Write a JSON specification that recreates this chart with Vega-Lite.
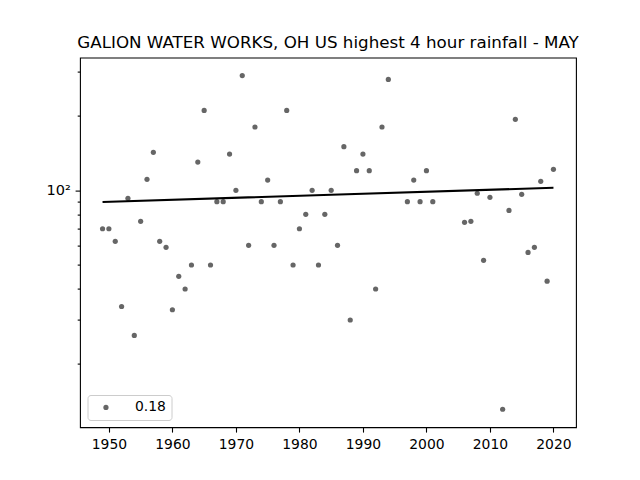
{
"$schema":"https://vega.github.io/schema/vega-lite/v6.json",
"width":496,"height":369.6,
"autosize":{"type":"none"},
"padding":{"left":80,"top":57.6,"right":64,"bottom":52.8},
"background":"white",
"title":{"text":"GALION WATER WORKS, OH US highest 4 hour rainfall - MAY","font":"DejaVu Sans","fontSize":16.72,"fontWeight":"normal","color":"black","anchor":"middle","offset":5.5},
"config":{"view":{"stroke":"black","strokeWidth":1.1},"font":"DejaVu Sans"},
"datasets":{
"obs":[
{"year":1949,"rain":70,"series":"0.18"},{"year":1950,"rain":70,"series":"0.18"},{"year":1951,"rain":62.3,"series":"0.18"},{"year":1952,"rain":34,"series":"0.18"},{"year":1953,"rain":92.8,"series":"0.18"},{"year":1954,"rain":26,"series":"0.18"},{"year":1955,"rain":75,"series":"0.18"},{"year":1956,"rain":110.7,"series":"0.18"},{"year":1957,"rain":142.3,"series":"0.18"},{"year":1958,"rain":62.3,"series":"0.18"},{"year":1959,"rain":58.9,"series":"0.18"},{"year":1960,"rain":33,"series":"0.18"},{"year":1961,"rain":45,"series":"0.18"},{"year":1962,"rain":40,"series":"0.18"},{"year":1963,"rain":50,"series":"0.18"},{"year":1964,"rain":130,"series":"0.18"},{"year":1965,"rain":210,"series":"0.18"},{"year":1966,"rain":50,"series":"0.18"},{"year":1967,"rain":90,"series":"0.18"},{"year":1968,"rain":90,"series":"0.18"},{"year":1969,"rain":140,"series":"0.18"},{"year":1970,"rain":100,"series":"0.18"},{"year":1971,"rain":290,"series":"0.18"},{"year":1972,"rain":60,"series":"0.18"},{"year":1973,"rain":180,"series":"0.18"},{"year":1974,"rain":90,"series":"0.18"},{"year":1975,"rain":110,"series":"0.18"},{"year":1976,"rain":60,"series":"0.18"},{"year":1977,"rain":90,"series":"0.18"},{"year":1978,"rain":210,"series":"0.18"},{"year":1979,"rain":50,"series":"0.18"},{"year":1980,"rain":70,"series":"0.18"},{"year":1981,"rain":80,"series":"0.18"},{"year":1982,"rain":100,"series":"0.18"},{"year":1983,"rain":50,"series":"0.18"},{"year":1984,"rain":80,"series":"0.18"},{"year":1985,"rain":100,"series":"0.18"},{"year":1986,"rain":60,"series":"0.18"},{"year":1987,"rain":150,"series":"0.18"},{"year":1988,"rain":30,"series":"0.18"},{"year":1989,"rain":120,"series":"0.18"},{"year":1990,"rain":140,"series":"0.18"},{"year":1991,"rain":120,"series":"0.18"},{"year":1992,"rain":40,"series":"0.18"},{"year":1993,"rain":180,"series":"0.18"},{"year":1994,"rain":280,"series":"0.18"},{"year":1997,"rain":90,"series":"0.18"},{"year":1998,"rain":110,"series":"0.18"},{"year":1999,"rain":90,"series":"0.18"},{"year":2000,"rain":120,"series":"0.18"},{"year":2001,"rain":90,"series":"0.18"},{"year":2006,"rain":74.3,"series":"0.18"},{"year":2007,"rain":75,"series":"0.18"},{"year":2008,"rain":97.3,"series":"0.18"},{"year":2009,"rain":52.2,"series":"0.18"},{"year":2010,"rain":93.7,"series":"0.18"},{"year":2012,"rain":13.1,"series":"0.18"},{"year":2013,"rain":83,"series":"0.18"},{"year":2014,"rain":193.3,"series":"0.18"},{"year":2015,"rain":96.3,"series":"0.18"},{"year":2016,"rain":56.2,"series":"0.18"},{"year":2017,"rain":58.9,"series":"0.18"},{"year":2018,"rain":108.7,"series":"0.18"},{"year":2019,"rain":43,"series":"0.18"},{"year":2020,"rain":121.5,"series":"0.18"}
],
"trend":[{"year":1949,"rain":89.7},{"year":1985,"rain":96},{"year":2020,"rain":102.4}]
},
"layer":[
{"data":{"name":"obs"},
"mark":{"type":"point","filled":true,"opacity":0.6,"size":27},
"encoding":{
"x":{"field":"year","type":"quantitative","scale":{"domain":[1945.45,2023.55],"nice":false,"zero":false},
"axis":{"title":null,"values":[1950,1960,1970,1980,1990,2000,2010,2020],"format":"d","grid":false,"domain":false,"tickColor":"black","tickWidth":1.1,"tickSize":4.9,"labelPadding":4.9,"labelFontSize":13.9,"labelFont":"DejaVu Sans","labelColor":"black","labelFlush":false,"labelOverlap":false}},
"y":{"field":"rain","type":"quantitative","scale":{"type":"log","base":10,"domain":[11.09,342.8],"nice":false,"zero":false},
"axis":{"title":null,"values":[20,30,40,50,60,70,80,90,100,200,300],"labelExpr":"datum.value==100?'10²':''","grid":false,"domain":false,"tickColor":"black","tickWidth":1.1,"tickSize":{"condition":{"test":"datum.value==100","value":4.9},"value":2.8},"labelPadding":4.9,"labelFontSize":14.5,"labelFont":"DejaVu Sans","labelColor":"black","labelOverlap":false,"labelFlush":false}},
"color":{"field":"series","type":"nominal","scale":{"range":["black"]},
"legend":{"title":null,"orient":"none","legendX":7.5,"legendY":337.4,"fillColor":"white","strokeColor":"#cccccc","cornerRadius":3,"padding":5.5,"symbolOpacity":0.6,"symbolSize":27,"symbolType":"circle","symbolOffset":6,"labelOffset":22,"labelFontSize":13.9,"labelFont":"DejaVu Sans","labelColor":"black"}}
}},
{"data":{"name":"trend"},
"mark":{"type":"line","color":"black","strokeWidth":2.08},
"encoding":{"x":{"field":"year","type":"quantitative"},"y":{"field":"rain","type":"quantitative"}}}
]
}
